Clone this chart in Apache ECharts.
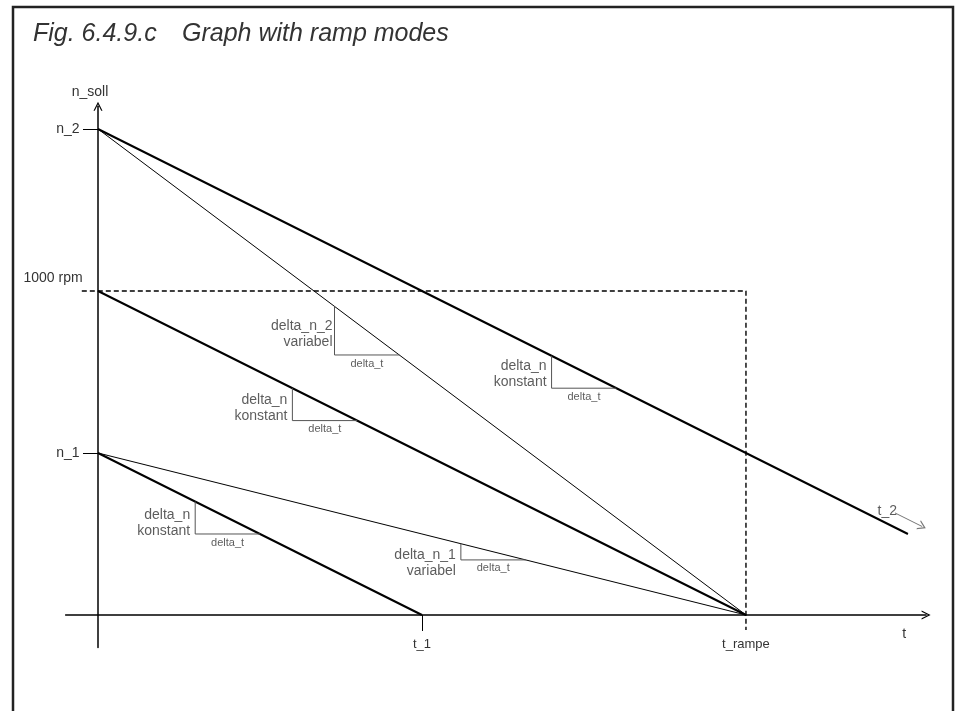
<!DOCTYPE html>
<html>
<head>
<meta charset="utf-8">
<style>
  html, body { margin: 0; padding: 0; background: #fff; }
  #chart { width: 961px; height: 711px; }
</style>
<script src="https://cdn.jsdelivr.net/npm/echarts@6/dist/echarts.min.js"></script>
</head>
<body>
<div id="chart"></div>
<script>
// speed marks on the y axis (rpm)
var speedNames = ["n_1", "1000 rpm", "n_2"];
var speedValues = [500, 1000, 1500];
// time marks on the x axis
var timeNames = ["t_1", "t_rampe"];
var timeValues = [5, 10];

// ramps: start speed, time where it reaches zero, time where the drawing stops
var rampFrom = [1500, 1500, 1000, 500, 500];
var rampZero = [15, 10, 10, 10, 5];
var rampEnd = [12.5, 10, 10, 10, 5];
var rampBold = [true, false, true, false, true];

// slope triangles drawn on the ramps
var triRamp = [0, 1, 2, 3, 4];
var triStart = [7, 3.65, 3, 5.6, 1.5];
var triWidth = [1, 1, 1, 1, 1];
var triTop = ["delta_n", "delta_n_2", "delta_n", "delta_n_1", "delta_n"];
var triBottom = ["konstant", "variabel", "konstant", "variabel", "konstant"];

var FONT = "Liberation Sans, Arial, sans-serif";
var TEXT = "#333";
var CHEVRON = "path://M0,10 L5,0 L10,10 L8.6,10 L5,2.8 L1.4,10 Z";

function rampAt(i, t) {
  return rampFrom[i] * (1 - t / rampZero[i]);
}

var series = [];

// the ramps
rampFrom.forEach(function (v, i) {
  series.push({
    type: "line",
    data: [[0, v], [rampEnd[i], rampAt(i, rampEnd[i])]],
    symbol: "none",
    silent: true,
    lineStyle: { color: "#000", width: rampBold[i] ? 2 : 1 }
  });
});

// dashed guide for 1000 rpm / t_rampe
series.push({
  type: "line",
  data: [[-0.25, speedValues[1]], [timeValues[1], speedValues[1]], [timeValues[1], -46]],
  symbol: "none",
  silent: true,
  lineStyle: { color: "#000", width: 1.4, type: [5, 3] }
});

// slope triangles
var labelDy = [-14, -21, -12, 3, -11];
var labelGap = [5, 2, 5, 5, 5];
var cornerPts = [];
var midPts = [];
triRamp.forEach(function (r, k) {
  var a = triStart[k];
  var b = a + triWidth[k];
  var ya = rampAt(r, a);
  var yb = rampAt(r, b);
  series.push({
    type: "line",
    data: [[a, ya], [a, yb], [b, yb]],
    symbol: "none",
    silent: true,
    lineStyle: { color: "#555", width: 1 }
  });
  cornerPts.push({
    value: [a, yb],
    label: {
      formatter: triTop[k] + "\n" + triBottom[k],
      distance: labelGap[k],
      offset: [0, labelDy[k]]
    }
  });
  midPts.push({ value: [(a + b) / 2, yb] });
});

series.push({
  type: "scatter",
  data: cornerPts,
  symbolSize: 0,
  silent: true,
  label: {
    show: true,
    position: "left",
    align: "right",
    color: TEXT,
    fontFamily: FONT,
    fontSize: 14,
    lineHeight: 16
  }
});
series.push({
  type: "scatter",
  data: midPts,
  symbolSize: 0,
  silent: true,
  label: {
    show: true,
    position: "bottom",
    distance: 3,
    formatter: "delta_t",
    color: TEXT,
    fontFamily: FONT,
    fontSize: 11
  }
});

// t_2 pointer
var t2 = rampEnd[0];
series.push({
  type: "scatter",
  data: [{
    value: [t2 - 0.35, rampAt(0, t2 - 0.35) + 45],
    label: { show: true, formatter: "t_2", position: "top", distance: 2, offset: [2, 12], color: TEXT, fontFamily: FONT, fontSize: 14 }
  }],
  symbolSize: 0,
  silent: true,
  markLine: {
    silent: true,
    symbol: ["none", CHEVRON],
    symbolSize: [10, 8],
    label: { show: false },
    lineStyle: { color: "#777", width: 1, type: "solid" },
    data: [[
      { coord: [t2 - 0.2, rampAt(0, t2 - 0.2) + 45] },
      { coord: [t2 + 0.22, rampAt(0, t2 + 0.22) + 45] }
    ]]
  }
});

var titleStyle = { fontFamily: FONT, fontStyle: "italic", fontWeight: "normal", fontSize: 25, color: TEXT };

var option = {
  animation: false,
  backgroundColor: "#fff",
  title: [
    { text: "Fig. 6.4.9.c", left: 33, top: 22, padding: 0, textStyle: titleStyle },
    { text: "Graph with ramp modes", left: 182, top: 22, padding: 0, textStyle: titleStyle }
  ],
  graphic: [{
    type: "rect",
    shape: { x: 13, y: 7, width: 940, height: 720 },
    style: { fill: "none", stroke: "#222", lineWidth: 2.5 },
    silent: true
  }],
  grid: { left: 65.6, top: 106.3, width: 860.5, height: 541.1, containLabel: false, outerBoundsMode: "none" },
  xAxis: {
    type: "value",
    min: -0.5,
    max: 12.78,
    name: "t",
    nameLocation: "end",
    nameGap: -22,
    nameTextStyle: { align: "center", verticalAlign: "top", padding: [12, 0, 0, 0], color: TEXT, fontFamily: FONT, fontSize: 14 },
    axisLine: { onZero: true, symbol: ["none", CHEVRON], symbolSize: [11, 9], lineStyle: { color: "#000", width: 1.5 } },
    axisTick: { show: true, inside: false, length: 16, customValues: [timeValues[0]], lineStyle: { color: "#000", width: 1 } },
    axisLabel: {
      customValues: timeValues,
      margin: -9,
      color: TEXT, fontFamily: FONT, fontSize: 13,
      formatter: function (v) { return timeNames[timeValues.indexOf(v)]; }
    },
    splitLine: { show: false }
  },
  yAxis: {
    type: "value",
    min: -100,
    max: 1570,
    name: "n_soll",
    nameLocation: "end",
    nameGap: 7,
    nameTextStyle: { padding: [0, 16, 0, 0], color: TEXT, fontFamily: FONT, fontSize: 14 },
    axisLine: { onZero: true, symbol: ["none", CHEVRON], symbolSize: [11, 9], lineStyle: { color: "#000", width: 1.5 } },
    axisTick: { show: true, inside: false, length: 15, customValues: [speedValues[0], speedValues[2]], lineStyle: { color: "#000", width: 1 } },
    axisLabel: {
      customValues: speedValues,
      margin: -17,
      color: TEXT, fontFamily: FONT, fontSize: 14,
      formatter: function (v) {
        var name = speedNames[speedValues.indexOf(v)];
        return v === 1000 ? "{rpm|" + name + "}" : "{n|" + name + "}";
      },
      rich: {
        rpm: { color: TEXT, fontFamily: FONT, fontSize: 14, padding: [0, 0, 26, 0] },
        n: { color: TEXT, fontFamily: FONT, fontSize: 14, padding: [0, 3, 0, 0] }
      }
    },
    splitLine: { show: false }
  },
  series: series
};

var chart = echarts.init(document.getElementById("chart"));
chart.setOption(option);
</script>
</body>
</html>
